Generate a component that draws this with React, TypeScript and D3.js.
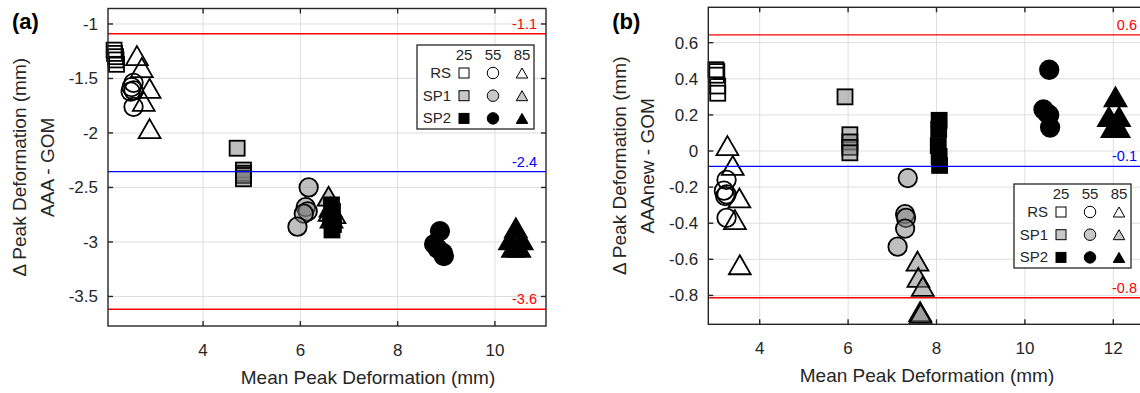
import React from 'react'
import { scaleLinear } from 'd3'

// [mean peak deformation, delta peak deformation]
const aRsSquare = [[2.17, -1.24], [2.18, -1.27], [2.2, -1.3], [2.21, -1.33], [2.22, -1.37]]
const aRsCircle = [[2.57, -1.54], [2.53, -1.58], [2.57, -1.61], [2.51, -1.62], [2.57, -1.76]]
const aRsTriangle = [[2.64, -1.29], [2.74, -1.4], [2.9, -1.59], [2.78, -1.71], [2.9, -1.96]]
const aSp1Square = [[4.7, -2.14], [4.83, -2.34], [4.83, -2.37], [4.83, -2.39], [4.83, -2.42]]
const aSp1Circle = [[6.17, -2.5], [6.11, -2.68], [6.15, -2.72], [6.07, -2.74], [5.94, -2.86]]
const aSp1Triangle = [[6.58, -2.58], [6.62, -2.68], [6.7, -2.74], [6.64, -2.78], [6.6, -2.72]]
const aSp2Square = [[6.64, -2.66], [6.66, -2.72], [6.62, -2.78], [6.68, -2.84], [6.65, -2.89]]
const aSp2Circle = [[8.87, -2.9], [8.75, -3.02], [8.82, -3.06], [8.93, -3.1], [8.95, -3.13]]
const aSp2Triangle = [[10.43, -2.87], [10.31, -2.98], [10.55, -2.98], [10.37, -3.05], [10.5, -3.05]]

const bRsSquare = [[3.01, 0.45], [3.03, 0.44], [3.02, 0.42], [3.05, 0.36], [3.05, 0.32]]
const bRsCircle = [[3.25, -0.16], [3.19, -0.22], [3.25, -0.24], [3.22, -0.25], [3.25, -0.37]]
const bRsTriangle = [[3.27, 0.03], [3.39, -0.08], [3.54, -0.26], [3.44, -0.38], [3.55, -0.63]]
const bSp1Square = [[5.93, 0.3], [6.04, 0.09], [6.04, 0.05], [6.04, 0.02], [6.04, -0.01]]
const bSp1Circle = [[7.35, -0.15], [7.29, -0.35], [7.31, -0.37], [7.29, -0.43], [7.12, -0.53]]
const bSp1Triangle = [[7.57, -0.61], [7.59, -0.7], [7.69, -0.75], [7.63, -0.89], [7.64, -0.9]]
const bSp2Square = [[8.06, 0.17], [8.05, 0.12], [8.04, 0.03], [8.06, -0.03], [8.07, -0.08]]
const bSp2Circle = [[10.55, 0.45], [10.42, 0.23], [10.55, 0.2], [10.57, 0.13], [10.5, 0.21]]
const bSp2Triangle = [[12.05, 0.3], [11.9, 0.19], [12.13, 0.19], [11.98, 0.13], [12.12, 0.13]]

// limits of agreement: value, label, colour
const aRefLines = [[-1.09, '-1.1', 'red'], [-2.355, '-2.4', 'blue'], [-3.617, '-3.6', 'red']]
const bRefLines = [[0.643, '0.6', 'red'], [-0.085, '-0.1', 'blue'], [-0.813, '-0.8', 'red']]

const aXTicks = [4, 6, 8, 10]
const aYTicks = [-1, -1.5, -2, -2.5, -3, -3.5]
const bXTicks = [4, 6, 8, 10, 12]
const bYTicks = [0.6, 0.4, 0.2, 0, -0.2, -0.4, -0.6, -0.8]

const groups = ['RS', 'SP1', 'SP2']
const angles = ['25', '55', '85']

const FONT = 'Arial, "Liberation Sans", Helvetica, sans-serif'
const AX = '#262626'
const fills = { RS: 'none', SP1: 'rgba(128,128,128,0.5)', SP2: '#000' }

const Marker = ({ shape, x, y, s, fill, sw }) => {
  if (shape === 'square') {
    return <rect x={x - s / 2} y={y - s / 2} width={s} height={s} fill={fill} stroke="#000" strokeWidth={sw} />
  }
  if (shape === 'circle') {
    return <circle cx={x} cy={y} r={s / 2} fill={fill} stroke="#000" strokeWidth={sw} />
  }
  const w = s * 1.15, h = s
  return <path d={`M${x},${y - h / 2}L${x + w / 2},${y + h / 2}L${x - w / 2},${y + h / 2}Z`}
    fill={fill} stroke="#000" strokeWidth={sw} strokeLinejoin="miter" />
}

const Legend = ({ left, top }) => (
  <g>
    <rect x={left} y={top} width={117} height={84} fill="#fff" stroke={AX} strokeWidth={1.3} />
    {angles.map((a, i) => (
      <text key={a} x={left + 47 + i * 29} y={top + 15} textAnchor="middle" fontSize={15} fill={AX}>{a}</text>
    ))}
    {groups.map((g, r) => {
      const cy = top + 28 + r * 22.7
      return <g key={g}>
        <text x={left + 34} y={cy + 5} textAnchor="end" fontSize={15} fill={AX}>{g}</text>
        {['square', 'circle', 'triangle'].map((sh, c) => (
          <Marker key={sh} shape={sh} x={left + 47 + c * 29} y={cy} fill={g === 'RS' ? '#fff' : g === 'SP1' ? '#c8c8c8' : '#000'}
            s={sh === 'square' ? 10 : sh === 'circle' ? 11.5 : 10} sw={1} />
        ))}
      </g>
    })}
  </g>
)

const Panel = ({ box, xDomain, yDomain, xTicks, yTicks, series, refLines, tag, ylab2, xlabX, legendPos }) => {
  const [l, r, t, b] = box
  const x = scaleLinear().domain(xDomain).range([l, r])
  const y = scaleLinear().domain(yDomain).range([b, t])
  const yMid = (t + b) / 2
  return (
    <g fontFamily={FONT}>
      {/* grid */}
      {xTicks.map(v => <line key={'gx' + v} x1={x(v)} x2={x(v)} y1={t} y2={b} stroke="#dedede" strokeWidth={1} />)}
      {yTicks.map(v => <line key={'gy' + v} x1={l} x2={r} y1={y(v)} y2={y(v)} stroke="#dedede" strokeWidth={1} />)}

      {/* markers */}
      {series.map(([data, shape, grp], si) => data.map((d, i) => (
        <Marker key={si + '-' + i} shape={shape} x={x(d[0])} y={y(d[1])} fill={fills[grp]}
          s={shape === 'square' ? 15 : shape === 'circle' ? 18.5 : 19} sw={1.8} />
      )))}

      {/* limits of agreement */}
      {refLines.map(([v, lab, col]) => (
        <g key={lab}>
          <line x1={l} x2={r} y1={y(v)} y2={y(v)} stroke={col} strokeWidth={1.4} />
          <text x={r - 9} y={y(v) - 5} textAnchor="end" fontSize={14.5} fill={col}>{lab}</text>
        </g>
      ))}

      {/* box and ticks */}
      <rect x={l} y={t} width={r - l} height={b - t} fill="none" stroke={AX} strokeWidth={1.4} />
      {xTicks.map(v => <g key={'tx' + v}>
        <line x1={x(v)} x2={x(v)} y1={b} y2={b - 5} stroke={AX} strokeWidth={1.4} />
        <line x1={x(v)} x2={x(v)} y1={t} y2={t + 5} stroke={AX} strokeWidth={1.4} />
        <text x={x(v)} y={b + 30} textAnchor="middle" fontSize={17} fill={AX}>{v}</text>
      </g>)}
      {yTicks.map(v => <g key={'ty' + v}>
        <line x1={l} x2={l + 5} y1={y(v)} y2={y(v)} stroke={AX} strokeWidth={1.4} />
        <line x1={r} x2={r - 5} y1={y(v)} y2={y(v)} stroke={AX} strokeWidth={1.4} />
        <text x={l - 10} y={y(v) + 6} textAnchor="end" fontSize={17} fill={AX}>{v}</text>
      </g>)}

      <Legend left={legendPos[0]} top={legendPos[1]} />

      {/* labels */}
      <text x={xlabX} y={b + 58} textAnchor="middle" fontSize={19} fill={AX}>Mean Peak Deformation (mm)</text>
      <text transform={`translate(${l - 82},${yMid}) rotate(-90)`} textAnchor="middle" fontSize={19} fill={AX}>Δ Peak Deformation (mm)</text>
      <text transform={`translate(${l - 54},${yMid}) rotate(-90)`} textAnchor="middle" fontSize={19} fill={AX}>{ylab2}</text>
      <text x={l - 96} y={29} fontSize={22} fontWeight="bold" fill="#000">{tag}</text>
    </g>
  )
}

const App = () => {
  const aSeries = [
    [aRsSquare, 'square', 'RS'], [aRsCircle, 'circle', 'RS'], [aRsTriangle, 'triangle', 'RS'],
    [aSp1Square, 'square', 'SP1'], [aSp1Circle, 'circle', 'SP1'], [aSp1Triangle, 'triangle', 'SP1'],
    [aSp2Square, 'square', 'SP2'], [aSp2Circle, 'circle', 'SP2'], [aSp2Triangle, 'triangle', 'SP2'],
  ]
  const bSeries = [
    [bRsSquare, 'square', 'RS'], [bRsCircle, 'circle', 'RS'], [bRsTriangle, 'triangle', 'RS'],
    [bSp1Square, 'square', 'SP1'], [bSp1Circle, 'circle', 'SP1'], [bSp1Triangle, 'triangle', 'SP1'],
    [bSp2Square, 'square', 'SP2'], [bSp2Circle, 'circle', 'SP2'], [bSp2Triangle, 'triangle', 'SP2'],
  ]
  return (
    <div style={{ position: 'absolute', left: 0, top: 0 }}>
      <svg width={1140} height={393} style={{ display: 'block', background: '#fff' }}>
        <Panel box={[108, 546, 8.5, 326]} xDomain={[2.045, 11.05]} yDomain={[-3.771, -0.858]}
          xTicks={aXTicks} yTicks={aYTicks} series={aSeries} refLines={aRefLines}
          tag="(a)" ylab2="AAA - GOM" xlabX={368} legendPos={[417, 45]} />
        <Panel box={[708.3, 1146, 7.3, 324.3]} xDomain={[2.837, 12.74]} yDomain={[-0.96, 0.796]}
          xTicks={bXTicks} yTicks={bYTicks} series={bSeries} refLines={bRefLines}
          tag="(b)" ylab2="AAAnew - GOM" xlabX={927} legendPos={[1014, 184]} />
      </svg>
    </div>
  )
}

export default App
